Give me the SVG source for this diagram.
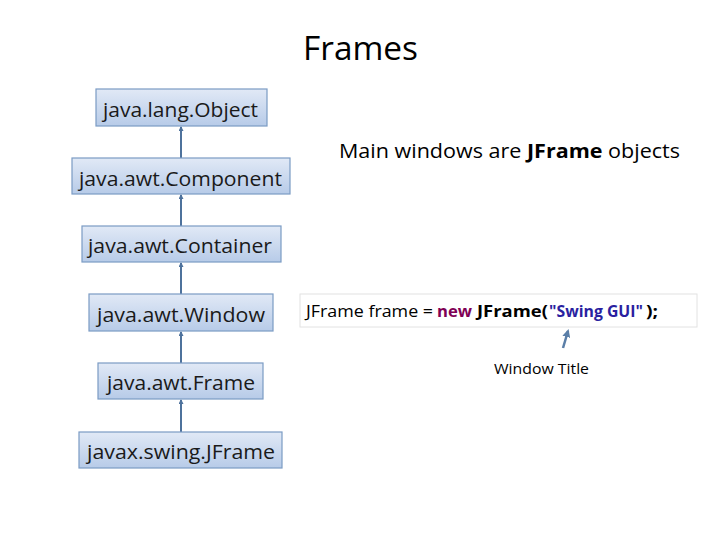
<svg xmlns="http://www.w3.org/2000/svg" width="720" height="540" viewBox="0 0 720 540">
<defs>
<linearGradient id="g" x1="0" y1="0" x2="0" y2="1">
<stop offset="0" stop-color="#e1e9f6"/>
<stop offset="1" stop-color="#b7cbe8"/>
</linearGradient>
<marker id="ah" markerWidth="5" markerHeight="5" refX="4" refY="2.5" orient="auto" markerUnits="userSpaceOnUse">
<path d="M0,0 L5,2.5 L0,5 z" fill="#4e729c"/>
</marker>
<marker id="ah2" markerWidth="8" markerHeight="8" refX="6" refY="4" orient="auto" markerUnits="userSpaceOnUse">
<path d="M0,0 L8,4 L0,8 z" fill="#5b7fa8"/>
</marker>
</defs>
<style>
.box{fill:url(#g);stroke:#7b9bc4;stroke-width:1.2}
.lbl{font-family:"Open Sans","Noto Sans",sans-serif;font-size:20px;fill:#1a1a1a}
.con{stroke:#4e729c;stroke-width:2;fill:none;marker-end:url(#ah)}
.txt{font-family:"Open Sans","Noto Sans",sans-serif;fill:#000}
</style>
<rect width="720" height="540" fill="#fff"/>
<text class="txt" x="303" y="60" font-size="33" textLength="115" lengthAdjust="spacingAndGlyphs">Frames</text>
<text class="txt" x="339" y="158" font-size="20" textLength="341" lengthAdjust="spacingAndGlyphs">Main windows are <tspan font-weight="bold">JFrame</tspan> objects</text>

<g id="connectors">
<line class="con" x1="181" y1="158" x2="181" y2="127"/>
<line class="con" x1="181" y1="226" x2="181" y2="195"/>
<line class="con" x1="181" y1="294" x2="181" y2="263"/>
<line class="con" x1="181" y1="363" x2="181" y2="332"/>
<line class="con" x1="181" y1="432" x2="181" y2="400"/>
<line x1="563" y1="348" x2="568" y2="331" stroke="#5b7fa8" stroke-width="2.5" marker-end="url(#ah2)"/>
</g>

<g id="object"><rect class="box" x="96" y="89" width="171" height="37"/><text class="lbl" x="103" y="117" textLength="155" lengthAdjust="spacingAndGlyphs">java.lang.Object</text></g>
<g id="component"><rect class="box" x="72" y="158" width="218" height="36"/><text class="lbl" x="79" y="186" textLength="203" lengthAdjust="spacingAndGlyphs">java.awt.Component</text></g>
<g id="container"><rect class="box" x="82" y="226" width="199" height="36"/><text class="lbl" x="88" y="253" textLength="184" lengthAdjust="spacingAndGlyphs">java.awt.Container</text></g>
<g id="window"><rect class="box" x="89" y="294" width="184" height="37"/><text class="lbl" x="97" y="322" textLength="168" lengthAdjust="spacingAndGlyphs">java.awt.Window</text></g>
<g id="frame"><rect class="box" x="98" y="363" width="165" height="36"/><text class="lbl" x="107" y="390" textLength="148" lengthAdjust="spacingAndGlyphs">java.awt.Frame</text></g>
<g id="jframe"><rect class="box" x="79" y="432" width="203" height="36"/><text class="lbl" x="87" y="459" textLength="188" lengthAdjust="spacingAndGlyphs">javax.swing.JFrame</text></g>

<g id="code">
<rect x="300" y="294" width="397" height="33" fill="#fff" stroke="#e2e2e2" stroke-width="1"/>
<text class="txt" font-size="16.5" y="317"><tspan x="306" textLength="127" lengthAdjust="spacingAndGlyphs">JFrame frame =</tspan><tspan x="437" font-weight="bold" fill="#7f0055" textLength="35" lengthAdjust="spacingAndGlyphs">new</tspan><tspan x="477" font-weight="bold" textLength="71" lengthAdjust="spacingAndGlyphs">JFrame(</tspan><tspan x="549" font-weight="bold" fill="#2a1fa0" textLength="94" lengthAdjust="spacingAndGlyphs">"Swing GUI"</tspan><tspan x="646" font-weight="bold" textLength="12" lengthAdjust="spacingAndGlyphs">);</tspan></text>
</g>
<g id="window-title"><text class="txt" x="494" y="374" font-size="15" textLength="95" lengthAdjust="spacingAndGlyphs">Window Title</text></g>
</svg>
